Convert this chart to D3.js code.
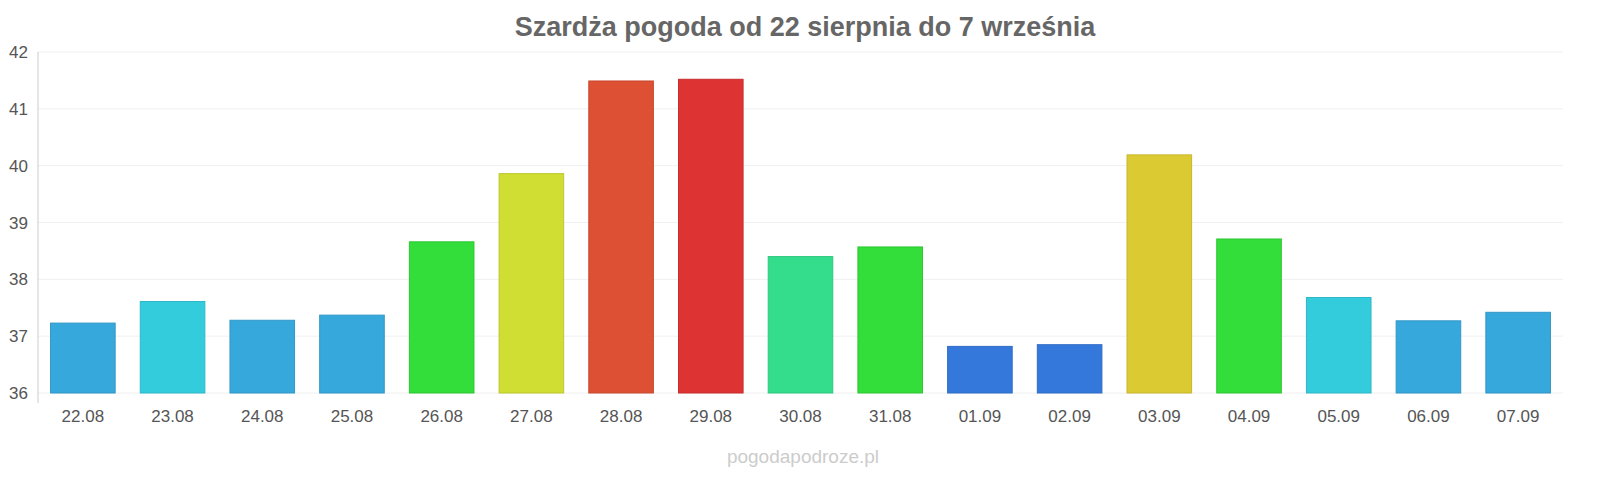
<!DOCTYPE html>
<html><head><meta charset="utf-8">
<script src="https://cdn.jsdelivr.net/npm/d3@7"></script>
<style>body{margin:0;background:#fff}</style>
</head><body><div id="chart"></div>
<script>
const days = ["22.08","23.08","24.08","25.08","26.08","27.08","28.08","29.08","30.08","31.08","01.09","02.09","03.09","04.09","05.09","06.09","07.09"];
const temps = [37.23,37.61,37.28,37.37,38.66,39.86,41.49,41.52,38.40,38.57,36.82,36.85,40.19,38.71,37.68,37.27,37.42];
const colors = ["#36a8dc","#33ccdd","#36a8dc","#36a8dc","#33dd3a","#d0de33","#de5033","#dd3333","#33dd8c","#33dd3a","#3478dc","#3478dc","#dcca33","#33dd3a","#33ccdd","#36a8dc","#36a8dc"];
const y_ticks = [36,37,38,39,40,41,42];

const width = 1600, height = 480;
const margin = {left: 38, right: 37, top: 52, bottom: 87};

const svg = d3.select("#chart").append("svg")
    .attr("width", width).attr("height", height)
    .style("font-family", "'Liberation Sans', Arial, sans-serif");

const x = d3.scaleBand().domain(days).range([margin.left, width - margin.right]).paddingInner(0.28).paddingOuter(0.14);
const y = d3.scaleLinear().domain([36, 42]).range([height - margin.bottom, margin.top]);

// grid
svg.append("g").selectAll("line").data(y_ticks).join("line")
    .attr("x1", margin.left).attr("x2", width - margin.right)
    .attr("y1", d => y(d)).attr("y2", d => y(d))
    .attr("stroke", "#f0f0f0");

svg.append("line")
    .attr("x1", margin.left).attr("x2", margin.left)
    .attr("y1", margin.top).attr("y2", height - margin.bottom + 10)
    .attr("stroke", "#ccc");

svg.append("g").selectAll("text").data(y_ticks).join("text")
    .attr("x", margin.left - 10).attr("y", d => y(d) + 6)
    .attr("text-anchor", "end").attr("font-size", 17).attr("fill", "#555")
    .text(d => d);

svg.append("g").selectAll("rect").data(days).join("rect")
    .attr("x", d => x(d)).attr("width", x.bandwidth())
    .attr("y", (d, i) => y(temps[i]))
    .attr("height", (d, i) => y(36) - y(temps[i]))
    .attr("fill", (d, i) => colors[i])
    .attr("stroke", (d, i) => d3.color(colors[i]).darker(0.3))
    .attr("stroke-width", 1);

svg.append("g").selectAll("text").data(days).join("text")
    .attr("x", d => x(d) + x.bandwidth() / 2).attr("y", height - margin.bottom + 29)
    .attr("text-anchor", "middle").attr("font-size", 17).attr("fill", "#555")
    .text(d => d);

svg.append("text").attr("x", width / 2 + 5).attr("y", 36)
    .attr("text-anchor", "middle").attr("font-size", 27).attr("font-weight", "bold").attr("fill", "#666")
    .text("Szardża pogoda od 22 sierpnia do 7 września");

svg.append("text").attr("x", width / 2 + 3).attr("y", 463)
    .attr("text-anchor", "middle").attr("font-size", 19).attr("fill", "#ccc")
    .text("pogodapodroze.pl");
</script></body></html>
